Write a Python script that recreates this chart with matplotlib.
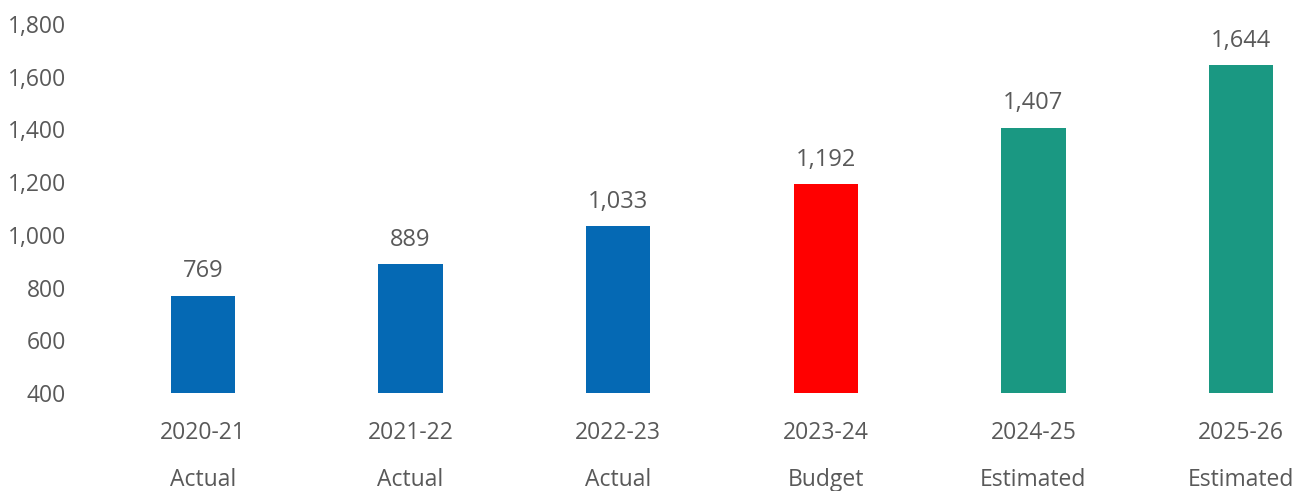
import matplotlib.pyplot as plt

years = ["2020-21", "2021-22", "2022-23", "2023-24", "2024-25", "2025-26"]
kinds = ["Actual", "Actual", "Actual", "Budget", "Estimated", "Estimated"]
values = [769, 889, 1033, 1192, 1407, 1644]
colors = ["#0569b4", "#0569b4", "#0569b4", "#ff0000", "#1a9882", "#1a9882"]

plt.rcParams['font.family'] = ['Open Sans', 'DejaVu Sans']
text_color = "#595959"

fig = plt.figure(figsize=(13.05, 4.91), dpi=100)
ax = fig.add_axes([80 / 1305, 98 / 491, 1225 / 1305, 369 / 491])

x = list(range(len(values)))
bars = ax.bar(x, values, width=0.31, color=colors)
ax.bar_label(bars, labels=[f"{v:,}" for v in values], padding=9,
             fontsize=17, color=text_color)

ax.set_ylim(400, 1800)
ax.set_xlim(-0.592, 5.308)
ax.set_yticks(range(400, 1801, 200))
ax.set_yticklabels([f"{t:,}" for t in range(400, 1801, 200)])
ax.set_xticks(x)
ax.set_xticklabels([f"{y}\n{k}" for y, k in zip(years, kinds)], linespacing=2.3)

ax.tick_params(axis='both', length=0, labelsize=16.5, labelcolor=text_color)
ax.tick_params(axis='y', pad=10)
ax.tick_params(axis='x', pad=20)
for s in ax.spines.values():
    s.set_visible(False)

fig.savefig("out.png", dpi=100)
